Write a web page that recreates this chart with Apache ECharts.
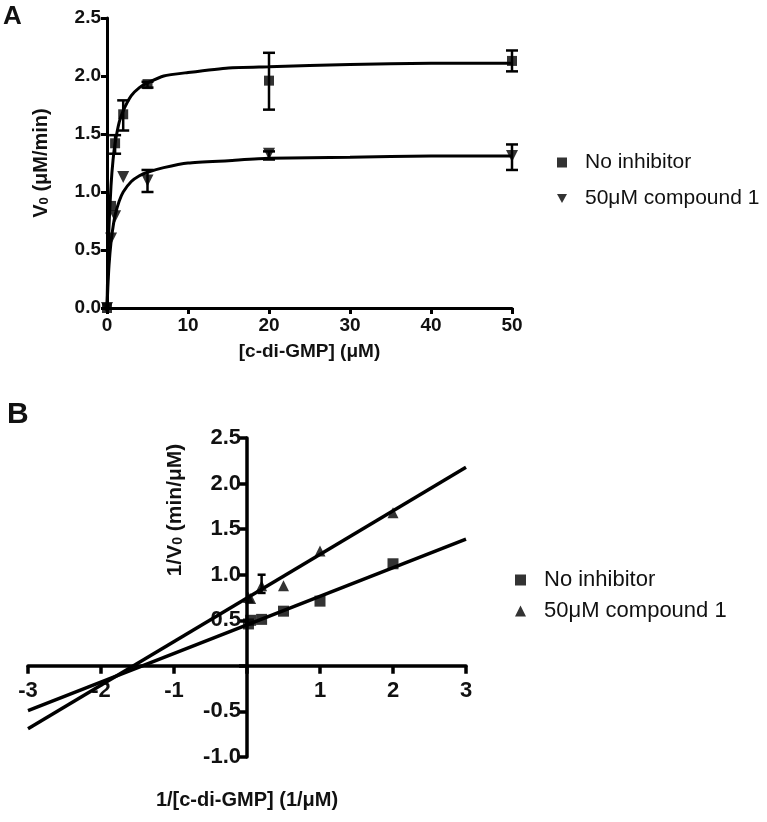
<!DOCTYPE html>
<html>
<head>
<meta charset="utf-8">
<script src="https://cdn.jsdelivr.net/npm/echarts@6/dist/echarts.min.js"></script>
<style>
html, body { margin: 0; padding: 0; background: #fff; }
#chart { width: 767px; height: 822px; }
</style>
</head>
<body>
<div id="chart"></div>
<script>
// ---- panel A: V0 vs [c-di-GMP] (uM) ----
const noInhA = [[0, 0], [0.5, 0.88], [1, 1.42], [2, 1.67], [5, 1.93], [20, 1.96], [50, 2.13]]
const cmpdA = [[0, 0], [0.5, 0.6], [1, 0.79], [2, 1.13], [5, 1.1], [20, 1.33], [50, 1.31]]
// [x, low, high]
const noInhErrA = [[1, 1.33, 1.49], [2, 1.53, 1.79], [5, 1.9, 1.95], [20, 1.71, 2.2], [50, 2.04, 2.22]]
const cmpdErrA = [[5, 1.0, 1.19], [20, 1.28, 1.35], [50, 1.19, 1.41]]
// fitted curves
const noInhFitA = [[0, 0], [0.1, 0.35], [0.25, 0.71], [0.5, 1.06], [0.75, 1.28], [1, 1.42], [1.5, 1.6],
  [2, 1.7], [3, 1.83], [4, 1.9], [5, 1.94], [7, 2.0], [10, 2.03], [15, 2.07], [20, 2.08], [30, 2.1],
  [40, 2.11], [50, 2.11]]
const cmpdFitA = [[0, 0], [0.1, 0.17], [0.25, 0.37], [0.5, 0.57], [0.75, 0.7], [1, 0.8], [1.5, 0.92],
  [2, 1.0], [3, 1.09], [4, 1.14], [5, 1.17], [7, 1.21], [10, 1.25], [15, 1.27], [20, 1.29], [30, 1.3],
  [40, 1.31], [50, 1.31]]

// ---- panel B: 1/V0 vs 1/[c-di-GMP] ----
const noInhB = [[0.02, 0.46], [0.05, 0.5], [0.2, 0.51], [0.5, 0.6], [1, 0.71], [2, 1.12]]
const cmpdB = [[0.02, 0.75], [0.05, 0.74], [0.2, 0.88], [0.5, 0.88], [1, 1.26], [2, 1.68]]
const cmpdErrB = [[0.2, 0.8, 1.0]]
const noInhFitB = [[-3, -0.49], [3, 1.39]]
const cmpdFitB = [[-3, -0.69], [3, 2.18]]

const NAME1 = 'No inhibitor'
const NAME2 = '50μM compound 1'
const FONT = 'Liberation Sans, Arial, sans-serif'
const INK = '#111'

function errBars(capW, lw) {
  return function (params, api) {
    const x = api.value(0)
    const lo = api.coord([x, api.value(1)])
    const hi = api.coord([x, api.value(2)])
    const style = { stroke: '#000', lineWidth: lw }
    return {
      type: 'group',
      children: [
        { type: 'line', shape: { x1: lo[0], y1: lo[1], x2: hi[0], y2: hi[1] }, style },
        { type: 'line', shape: { x1: lo[0] - capW, y1: lo[1], x2: lo[0] + capW, y2: lo[1] }, style },
        { type: 'line', shape: { x1: hi[0] - capW, y1: hi[1], x2: hi[0] + capW, y2: hi[1] }, style }
      ]
    }
  }
}

function axisCommon(lw, tickLen, fs) {
  return {
    axisLine: { onZero: false, lineStyle: { color: '#000', width: lw } },
    axisTick: { show: true, length: tickLen, lineStyle: { color: '#000', width: lw } },
    splitLine: { show: false },
    axisLabel: { color: INK, fontSize: fs, fontWeight: 'bold', fontFamily: FONT, showMinLabel: true, showMaxLabel: true }
  }
}

const subRich = (fs) => ({ s: { fontSize: fs, fontWeight: 'bold', fontFamily: FONT, color: INK, verticalAlign: 'bottom', lineHeight: 14 } })

const axA = axisCommon(3, 6, 19)
const axB = axisCommon(3.5, 8, 22)

// panel B grid; its axes cross at (0, 0), so shift them in from the grid edges
const gB = { left: 28, top: 438, width: 438, height: 319 }
const bX = [-3, 3]
const bY = [-1, 2.5]
const yAxisShiftB = -gB.width * (0 - bX[0]) / (bX[1] - bX[0])
const xAxisShiftB = -gB.height * (0 - bY[0]) / (bY[1] - bY[0])

const chart = echarts.init(document.getElementById('chart'))
chart.setOption({
  animation: false,
  backgroundColor: '#fff',
  grid: [
    { left: 107, top: 18, width: 405, height: 290, outerBoundsMode: 'none' },
    Object.assign({ outerBoundsMode: 'none' }, gB)
  ],
  xAxis: [
    Object.assign({}, axA, {
      gridIndex: 0, type: 'value', min: 0, max: 50, interval: 10,
      axisLabel: Object.assign({}, axA.axisLabel, { margin: 8 }),
      name: '[c-di-GMP] (μM)', nameLocation: 'middle', nameGap: 34,
      nameTextStyle: { color: INK, fontSize: 19, fontWeight: 'bold', fontFamily: FONT }
    }),
    Object.assign({}, axB, {
      gridIndex: 1, type: 'value', min: bX[0], max: bX[1], interval: 1, offset: xAxisShiftB,
      axisLabel: Object.assign({}, axB.axisLabel, { margin: 14, formatter: v => v === 0 ? '' : String(v) }),
      name: '1/[c-di-GMP] (1/μM)', nameLocation: 'middle', nameGap: 125,
      nameTextStyle: { color: INK, fontSize: 20, fontWeight: 'bold', fontFamily: FONT }
    })
  ],
  yAxis: [
    Object.assign({}, axA, {
      gridIndex: 0, type: 'value', min: 0, max: 2.5, interval: 0.5,
      axisLabel: Object.assign({}, axA.axisLabel, { margin: 6, formatter: v => v.toFixed(1) }),
      name: 'V{s|0} (μM/min)', nameLocation: 'middle', nameGap: 56,
      nameTextStyle: { color: INK, fontSize: 20, fontWeight: 'bold', fontFamily: FONT, rich: subRich(13) }
    }),
    Object.assign({}, axB, {
      gridIndex: 1, type: 'value', min: bY[0], max: bY[1], interval: 0.5, offset: yAxisShiftB,
      axisLabel: Object.assign({}, axB.axisLabel, { margin: 6, formatter: v => v === 0 ? '' : v.toFixed(1) })
    })
  ],
  legend: [
    {
      left: 552, top: 147, orient: 'vertical', itemWidth: 10, itemHeight: 10, itemGap: 15,
      selectedMode: false, symbolRotate: 0,
      textStyle: { color: INK, fontSize: 21, fontFamily: FONT, padding: [0, 0, 0, 13] },
      data: [{ name: NAME1, icon: 'rect' }, { name: NAME2, icon: 'path://M0,0L10,0L5,9Z' }]
    },
    {
      left: 510, top: 564, orient: 'vertical', itemWidth: 11, itemHeight: 11, itemGap: 9,
      selectedMode: false, symbolRotate: 0,
      textStyle: { color: INK, fontSize: 22, fontFamily: FONT, padding: [0, 0, 0, 13] },
      data: [{ name: NAME1, icon: 'rect' }, { name: NAME2, icon: 'triangle' }]
    }
  ],
  graphic: [
    { type: 'text', left: 3, top: 4, style: { text: 'A', fontSize: 26, fontWeight: 'bold', fontFamily: FONT, fill: INK } },
    { type: 'text', left: 7, top: 400, style: { text: 'B', fontSize: 30, fontWeight: 'bold', fontFamily: FONT, fill: INK } },
    {
      type: 'text', x: 175, y: 510, rotation: Math.PI / 2,
      style: {
        text: '1/V{s|0} (min/μM)', align: 'center', verticalAlign: 'middle',
        fontSize: 21, fontWeight: 'bold', fontFamily: FONT, fill: INK, rich: subRich(14)
      }
    }
  ],
  series: [
    // panel A
    { name: 'fitA1', type: 'line', xAxisIndex: 0, yAxisIndex: 0, data: noInhFitA, smooth: 0.2,
      symbol: 'none', lineStyle: { color: '#000', width: 3 }, z: 3 },
    { name: 'fitA2', type: 'line', xAxisIndex: 0, yAxisIndex: 0, data: cmpdFitA, smooth: 0.2,
      symbol: 'none', lineStyle: { color: '#000', width: 3 }, z: 3 },
    { name: 'errA1', type: 'custom', xAxisIndex: 0, yAxisIndex: 0, data: noInhErrA, renderItem: errBars(6, 2.5),
      encode: { x: 0, y: [1, 2] }, z: 4 },
    { name: 'errA2', type: 'custom', xAxisIndex: 0, yAxisIndex: 0, data: cmpdErrA, renderItem: errBars(6, 2.5),
      encode: { x: 0, y: [1, 2] }, z: 4 },
    { name: NAME1, type: 'scatter', xAxisIndex: 0, yAxisIndex: 0, data: noInhA, symbol: 'rect', symbolSize: 10,
      itemStyle: { color: '#000' }, z: 5 },
    { name: NAME2, type: 'scatter', xAxisIndex: 0, yAxisIndex: 0, data: cmpdA, symbol: 'triangle', symbolRotate: 180,
      symbolSize: 12, itemStyle: { color: '#000' }, z: 5 },
    // panel B
    { name: 'fitB1', type: 'line', xAxisIndex: 1, yAxisIndex: 1, data: noInhFitB, symbol: 'none',
      lineStyle: { color: '#000', width: 3.5 }, z: 3 },
    { name: 'fitB2', type: 'line', xAxisIndex: 1, yAxisIndex: 1, data: cmpdFitB, symbol: 'none',
      lineStyle: { color: '#000', width: 3.5 }, z: 3 },
    { name: 'errB2', type: 'custom', xAxisIndex: 1, yAxisIndex: 1, data: cmpdErrB, renderItem: errBars(4, 2.5),
      encode: { x: 0, y: [1, 2] }, z: 4 },
    { name: NAME1, type: 'scatter', xAxisIndex: 1, yAxisIndex: 1, data: noInhB, symbol: 'rect', symbolSize: 11,
      itemStyle: { color: '#000' }, z: 5 },
    { name: NAME2, type: 'scatter', xAxisIndex: 1, yAxisIndex: 1, data: cmpdB, symbol: 'triangle',
      symbolSize: 11, itemStyle: { color: '#000' }, z: 5 }
  ]
})
window.addEventListener('resize', () => chart.resize())
</script>
</body>
</html>
